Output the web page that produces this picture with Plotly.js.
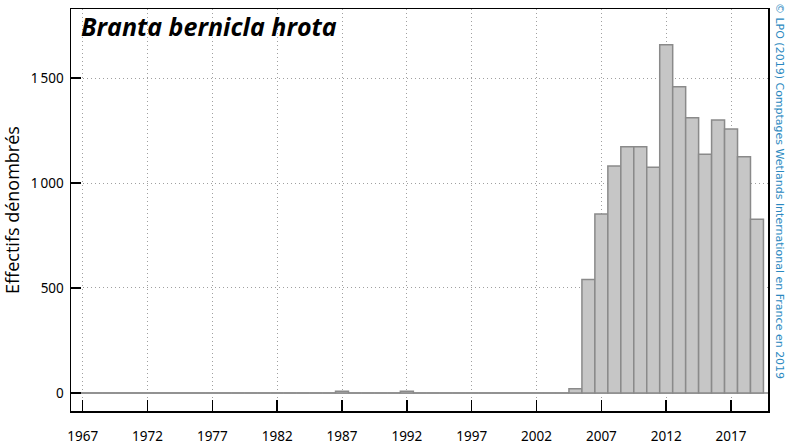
<!DOCTYPE html>
<html><head><meta charset="utf-8">
<script src="https://cdn.plot.ly/plotly-3.0.1.min.js"></script>
<style>html,body{margin:0;padding:0;background:#fff}#g{width:785px;height:446px}</style>
</head><body><div id="g"></div>
<script>
var years = [];
for (var y = 1967; y <= 2019; y++) years.push(y);
var counts = [
  0,0,0,0,0,0,0,0,0,0,      // 1967-1976
  0,0,0,0,0,0,0,0,0,0,      // 1977-1986
  8,0,0,0,0,8,0,0,0,0,      // 1987-1996
  0,0,0,0,0,0,0,0,20,540,   // 1997-2006
  852,1081,1173,1173,1075,1659,1459,1311,1137,1300, // 2007-2016
  1257,1125,827             // 2017-2019
];
var xTicks = [1967,1972,1977,1982,1987,1992,1997,2002,2007,2012,2017];
var yTicks = [0,500,1000,1500];
var yTickText = ['0','500','1\u2009000','1\u2009500'];
var titleText = 'Branta bernicla hrota';
var yTitle = 'Effectifs dénombrés';
var credit = '© LPO (2019) Comptages Wetlands International en France en 2019';

var trace = {
  type: 'bar', x: years, y: counts,
  marker: {color: '#c6c6c6', line: {color: '#8a8a8a', width: 1.5}},
  hoverinfo: 'x+y'
};
var layout = {
  width: 785, height: 446,
  margin: {l: 71, r: 17, t: 9, b: 35},
  paper_bgcolor: '#fff', plot_bgcolor: '#fff',
  bargap: 0,
  showlegend: false,
  font: {family: 'Noto Sans, sans-serif', size: 13, color: '#000'},
  xaxis: {
    range: [1966.1, 2019.85], tickmode: 'array', tickvals: xTicks,
    ticks: 'inside', ticklen: 11, tickwidth: 1.5, tickcolor: '#000',
    showline: true, linecolor: '#000', linewidth: 1.5, mirror: true,
    showgrid: true, gridcolor: '#a0a0a0', griddash: '1px,3px', gridwidth: 1,
    zeroline: false, ticklabelstandoff: 12,
    tickfont: {size: 13.5}
  },
  yaxis: {
    range: [-86, 1829], tickmode: 'array', tickvals: yTicks, ticktext: yTickText,
    ticks: 'inside', ticklen: 10, tickwidth: 1.5, tickcolor: '#000',
    showline: true, linecolor: '#000', linewidth: 1.5, mirror: true,
    showgrid: true, gridcolor: '#a0a0a0', griddash: '1px,3px', gridwidth: 1,
    zeroline: true, zerolinecolor: '#a8a8a8', zerolinewidth: 2,
    ticklabelstandoff: 3,
    title: {text: yTitle, font: {family: 'Open Sans, sans-serif', size: 18}, standoff: 13},
    tickfont: {size: 13.5}
  },
  annotations: [
    {text: '<b><i>' + titleText + '</i></b>', xref: 'paper', yref: 'paper',
     x: 0.012, y: 1.005, xanchor: 'left', yanchor: 'top', showarrow: false,
     font: {family: 'Open Sans, sans-serif', size: 25, color: '#000'}},
    {text: credit, xref: 'paper', yref: 'paper', x: 1.0, xshift: 11, y: 1.02,
     xanchor: 'center', yanchor: 'top', textangle: 90, showarrow: false,
     font: {family: 'DejaVu Sans, sans-serif', size: 11, color: '#2a88c0'}}
  ]
};
Plotly.newPlot('g', [trace], layout, {displayModeBar: false, staticPlot: true});
</script></body></html>
